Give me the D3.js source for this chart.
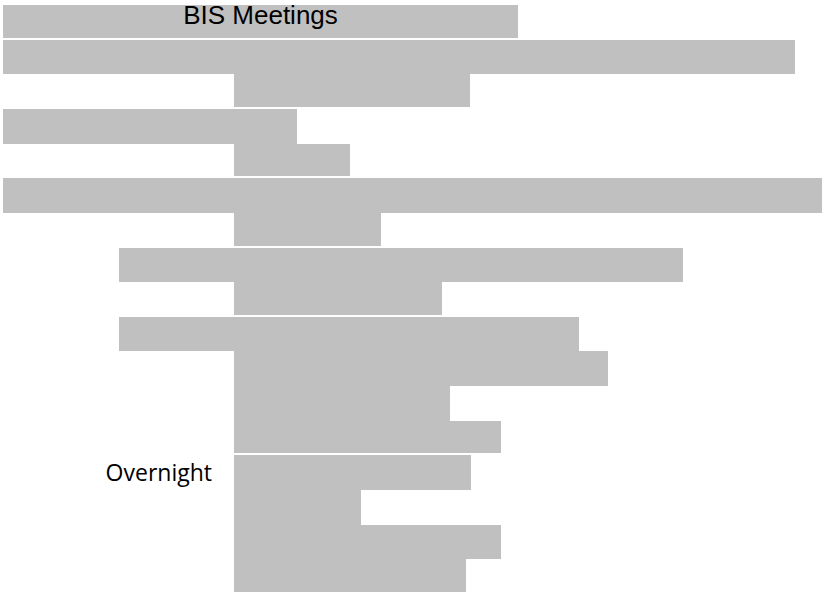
<!DOCTYPE html>
<html>
<head>
<meta charset="utf-8">
<script src="https://cdn.jsdelivr.net/npm/d3@7"></script>
<style>
  body { margin: 0; background: #fff; }
  svg { display: block; }
</style>
</head>
<body>
<div id="chart"></div>
<script>
const width  = 822;
const height = 592;

// one entry per row, top to bottom
const starts = [0, 0, 231, 0, 231, 0, 231, 116, 231, 116, 231, 231, 231, 231, 231, 231, 231];
const ends   = [515, 792, 467, 294, 347, 819, 378, 680, 439, 576, 605, 447, 498, 468, 358, 498, 463];
const groups = [0, 1, 1, 2, 2, 3, 3, 4, 4, 5, 5, 5, 5, 6, 6, 6, 6];
const labels = ['BIS Meetings', '', '', '', '', '', '', '', '', '', '', '', '', 'Overnight', '', '', ''];

const rows = starts.map((s, i) => ({ i, start: s, end: ends[i], group: groups[i], label: labels[i] }));

const x = d3.scaleLinear()
    .domain([0, 819])
    .range([3, 822]);

const y = d3.scaleBand()
    .domain(rows.map(d => d.i))
    .range([5, 594])
    .padding(0);

// snap rows to whole pixels so neighbouring bars do not show seams
const rowTop    = d => Math.round(y(d.i));
const rowBottom = d => Math.round(y(d.i) + y.bandwidth());

// thin white gap where a new group starts
const gap = d => (d.i < rows.length - 1 && rows[d.i + 1].group !== d.group) ? 2 : 0;

const svg = d3.select('#chart').append('svg')
    .attr('width', width)
    .attr('height', height);

svg.append('g')
    .attr('shape-rendering', 'crispEdges')
    .selectAll('rect')
    .data(rows)
    .enter()
    .append('rect')
    .attr('x', d => Math.round(x(d.start)))
    .attr('y', rowTop)
    .attr('width', d => Math.round(x(d.end)) - Math.round(x(d.start)))
    .attr('height', d => rowBottom(d) - rowTop(d) - gap(d))
    .attr('fill', '#c0c0c0');

// title sits in its own bar
const title = rows[0];
svg.append('text')
    .attr('x', (x(title.start) + x(title.end)) / 2)
    .attr('y', y(title.i) + 19)
    .attr('text-anchor', 'middle')
    .style('font-family', '"Liberation Sans", Arial, sans-serif')
    .style('font-size', '26px')
    .attr('fill', '#000')
    .text(title.label);

// row labels left of the sub-bars
svg.append('g')
    .selectAll('text')
    .data(rows.filter(d => d.i > 0 && d.label))
    .enter()
    .append('text')
    .attr('x', d => x(d.start) - 22)
    .attr('y', d => y(d.i) + y.bandwidth() / 2)
    .attr('dy', '0.35em')
    .attr('text-anchor', 'end')
    .style('font-family', '"Open Sans", sans-serif')
    .style('font-size', '23px')
    .attr('fill', '#000')
    .text(d => d.label);
</script>
</body>
</html>
